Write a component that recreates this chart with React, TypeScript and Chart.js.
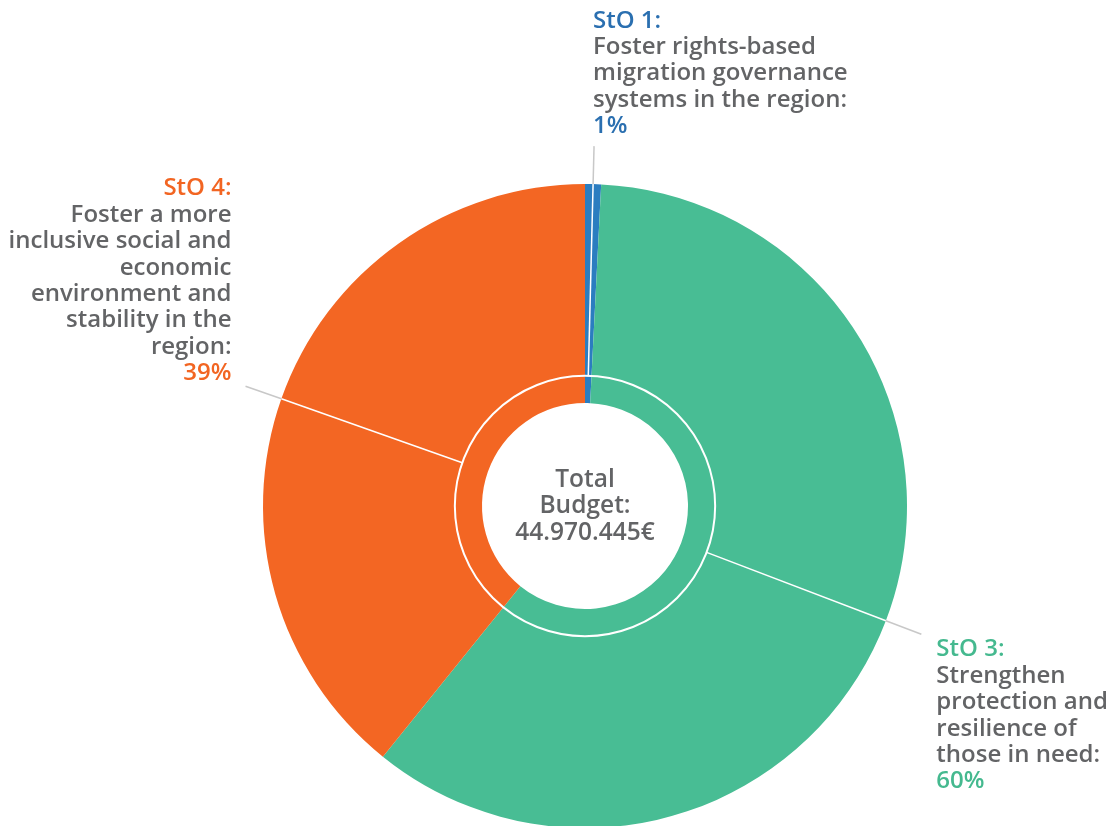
import React, { useEffect, useRef } from "react";
import { Chart, registerables } from "chart.js";

Chart.register(...registerables);

// ---- Data ----
const categories = ["StO 1:", "StO 3:", "StO 4:"];
const shares = [0.8, 60.0, 39.2];
const percentLabels = ["1%", "60%", "39%"];
const descriptions = [
  ["Foster rights-based", "migration governance", "systems in the region:"],
  ["Strengthen", "protection and", "resilience of", "those in need:"],
  [
    "Foster a more",
    "inclusive social and",
    "economic",
    "environment and",
    "stability in the",
    "region:",
  ],
];
const centerLines = ["Total", "Budget:", "44.970.445€"];

// ---- Styles ----
const sliceColors = ["#2B7DC0", "#48BD94", "#F36623"];
const titleColors = ["#2A6FB0", "#45B98F", "#F26522"];
const textGray = "#636466";
const leaderGray = "#C8C8C8";
const FONT = "600 24px 'Open Sans', 'Noto Sans', sans-serif";
const CENTER_FONT = "600 24.5px 'Open Sans', 'Noto Sans', sans-serif";
const LINE_H = 26.4;

// label placement relative to leader-line end (per slice)
const labelLayout = [
  { align: "left" as CanvasTextAlign, dx: -1, anchor: "bottom", dy: -13 },
  { align: "left" as CanvasTextAlign, dx: 15, anchor: "top", dy: 22 },
  { align: "right" as CanvasTextAlign, dx: -14, anchor: "bottom", dy: -6 },
];

const annotationPlugin = {
  id: "annotations",
  afterDatasetsDraw(chart: any) {
    const ctx: CanvasRenderingContext2D = chart.ctx;
    const meta = chart.getDatasetMeta(0);
    if (!meta.data.length) return;
    const a0: any = meta.data[0];
    const cx = a0.x;
    const cy = a0.y;
    const outerR = a0.outerRadius;
    const innerR = a0.innerRadius;
    const ringR = innerR + (outerR - innerR) * 0.124;
    const leaderEndR = outerR * 1.118;

    ctx.save();
    // white ring
    ctx.strokeStyle = "#ffffff";
    ctx.lineWidth = 2;
    ctx.beginPath();
    ctx.arc(cx, cy, ringR, 0, Math.PI * 2);
    ctx.stroke();

    meta.data.forEach((arc: any, i: number) => {
      const mid = (arc.startAngle + arc.endAngle) / 2;
      const c = Math.cos(mid);
      const s = Math.sin(mid);
      // white part inside
      ctx.strokeStyle = "#ffffff";
      ctx.lineWidth = 1.5;
      ctx.beginPath();
      ctx.moveTo(cx + ringR * c, cy + ringR * s);
      ctx.lineTo(cx + outerR * c, cy + outerR * s);
      ctx.stroke();
      // gray part outside
      ctx.strokeStyle = leaderGray;
      ctx.beginPath();
      ctx.moveTo(cx + outerR * c, cy + outerR * s);
      ctx.lineTo(cx + leaderEndR * c, cy + leaderEndR * s);
      ctx.stroke();

      const ex = cx + leaderEndR * c;
      const ey = cy + leaderEndR * s;
      const lay = labelLayout[i];
      const lines = [categories[i], ...descriptions[i], percentLabels[i]];
      const n = lines.length;
      const firstBaseline =
        lay.anchor === "bottom" ? ey + lay.dy - (n - 1) * LINE_H : ey + lay.dy;
      ctx.font = FONT;
      ctx.textAlign = lay.align;
      ctx.textBaseline = "alphabetic";
      lines.forEach((t, k) => {
        ctx.fillStyle = k === 0 || k === n - 1 ? titleColors[i] : textGray;
        ctx.fillText(t, ex + lay.dx, firstBaseline + k * LINE_H);
      });
    });

    // center text
    ctx.font = CENTER_FONT;
    ctx.textAlign = "center";
    ctx.fillStyle = textGray;
    centerLines.forEach((t, k) => {
      ctx.fillText(t, cx, cy - 19 + k * LINE_H);
    });
    ctx.restore();
  },
};

export default function App() {
  const canvasRef = useRef<HTMLCanvasElement | null>(null);

  useEffect(() => {
    if (!canvasRef.current) return;
    const chart = new Chart(canvasRef.current, {
      type: "doughnut",
      data: {
        labels: categories,
        datasets: [
          {
            data: shares,
            backgroundColor: sliceColors,
            borderWidth: 0,
            hoverOffset: 0,
          },
        ],
      },
      options: {
        animation: false,
        responsive: false,
        devicePixelRatio: 1,
        cutout: 103,
        rotation: 0,
        layout: { padding: { top: 184, bottom: 2, left: 263, right: 207 } },
        plugins: {
          legend: { display: false },
          tooltip: { enabled: false },
        },
      },
      plugins: [annotationPlugin],
    });
    if ((document as any).fonts && (document as any).fonts.ready) {
      (document as any).fonts.ready.then(() => chart.draw());
    }
    return () => chart.destroy();
  }, []);

  return (
    <div style={{ position: "fixed", left: 0, top: 0, width: 1114, height: 830, background: "#fff" }}>
      <canvas ref={canvasRef} width={1114} height={830} style={{ width: 1114, height: 830 }} />
    </div>
  );
}
